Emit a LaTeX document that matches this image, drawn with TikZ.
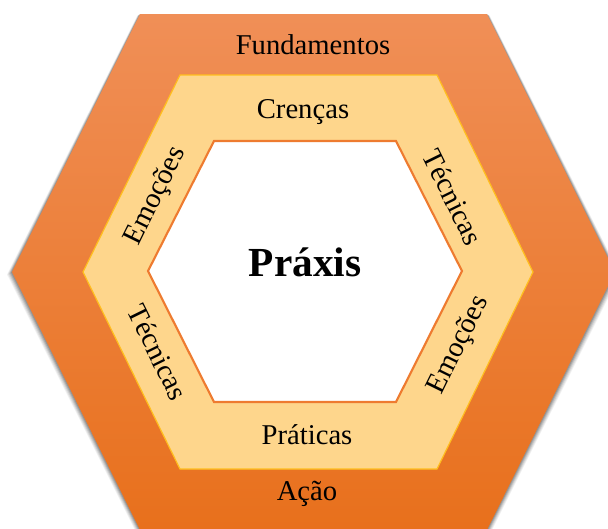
\documentclass[tikz,border=0pt]{standalone}
\usepackage{fontspec}
\setmainfont{Liberation Serif}
\definecolor{outtop}{HTML}{F08F57}
\definecolor{outbot}{HTML}{E8701C}
\definecolor{midfill}{HTML}{FED68C}
\definecolor{midline}{HTML}{FFBE1E}
\definecolor{inline}{HTML}{EE7B30}
\tikzset{
  lbl/.style={font=\fontsize{21.5}{24}\selectfont, inner sep=0pt, text=black},
  bigl/.style={font=\fontsize{31}{34}\selectfont\bfseries, inner sep=0pt, text=black}
}
\begin{document}
\begin{tikzpicture}[x=0.75pt,y=-0.75pt]
\useasboundingbox (0,0) rectangle (608,529);
\clip (0,0) rectangle (608,529);
\fill[white] (0,0) rectangle (608,529);
% shadow
\foreach \d/\o in {5/0.06,4/0.08,3/0.1,2/0.12,1/0.14}{
  \fill[black,opacity=\o] (140-\d*0.5,14+\d*0.3) -- (487+\d*0.5,14+\d*0.3) -- (615+\d,272+\d*0.5) -- (487+\d*0.5,530+\d) -- (140-\d*0.5,530+\d) -- (12-\d,272+\d*0.5) -- cycle;
}
% outer hexagon
\shade[top color=outtop, bottom color=outbot] (140,14) -- (487,14) -- (615,272) -- (487,530) -- (140,530) -- (12,272) -- cycle;
% middle hexagon
\filldraw[fill=midfill, draw=midline, line width=0.9pt] (180,75) -- (437,75) -- (533,272) -- (437,469) -- (180,469) -- (83,272) -- cycle;
% inner hexagon
\filldraw[fill=white, draw=inline, line width=1.6pt] (214,141) -- (396,141) -- (462,271) -- (396,402) -- (214,402) -- (148,271) -- cycle;
% labels
\node[lbl] (fund) at (313,45) {Fundamentos};
\node[lbl] (cren) at (303,112) {Crenças};
\node[bigl] (praxis) at (305,262) {Práxis};
\node[lbl] (prat) at (307,435) {Práticas};
\node[lbl] (acao) at (307,494) {Ação};
\node[lbl, rotate=63.8] (emo1) at (156,196) {Emoções};
\node[lbl, rotate=-63.8] (tec1) at (453,197) {Técnicas};
\node[lbl, rotate=-63.8] (tec2) at (158,352) {Técnicas};
\node[lbl, rotate=63.8] (emo2) at (459,345) {Emoções};
\end{tikzpicture}
\end{document}
